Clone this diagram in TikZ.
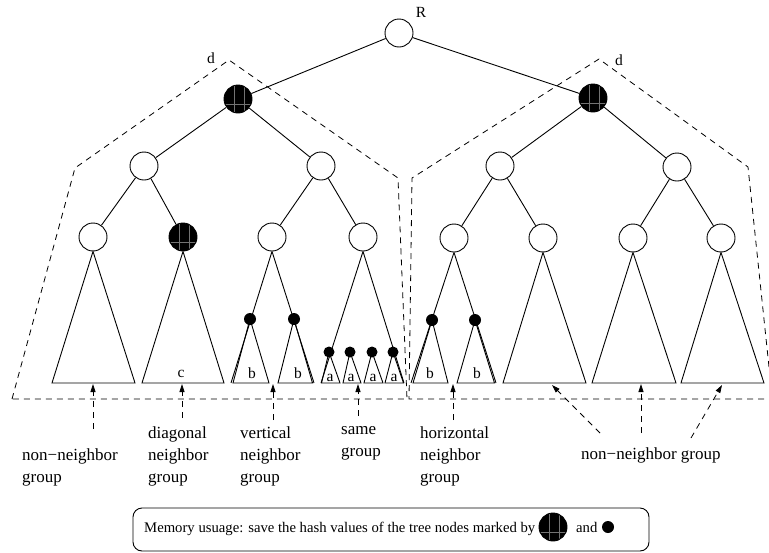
\documentclass[tikz,border=0pt]{standalone}
\usepackage{fontspec}
\setmainfont{Liberation Serif}
\usetikzlibrary{arrows.meta}
\begin{document}
\begin{tikzpicture}[x=1pt,y=-1pt,
  edge/.style={line width=0.9pt},
  tnode/.style={circle,draw,line width=0.9pt,fill=white,minimum size=28pt,inner sep=0pt},
  hashnode/.style={tnode,fill=black,path picture={
      \draw[black!55,line width=0.45pt]
        ([xshift=-3.3pt]path picture bounding box.north) -- ([xshift=-3.3pt]path picture bounding box.south)
        ([xshift=6pt]path picture bounding box.north) -- ([xshift=6pt]path picture bounding box.south)
        ([yshift=-5.5pt]path picture bounding box.west) -- ([yshift=-5.5pt]path picture bounding box.east);}},
  dot/.style={circle,fill=black,minimum size=12pt,inner sep=0pt},
  sdot/.style={circle,fill=black,minimum size=11pt,inner sep=0pt},
  dashline/.style={line width=0.8pt,dash pattern=on 6pt off 5pt},
  ptr/.style={dashline,-{Triangle[length=8pt,width=5pt]}},
  tlabel/.style={font=\fontsize{15.5}{18}\selectfont,inner sep=0pt,anchor=base},
  glabel/.style={font=\fontsize{17}{22}\selectfont,align=left,inner sep=0pt,anchor=base west},
  mtext/.style={font=\fontsize{14.7}{17}\selectfont,inner sep=0pt,anchor=base west}]
\useasboundingbox (0,0) rectangle (769,552);
\clip (0,0) rectangle (769,552);

% dashed outlines of the two subtrees of depth d
\draw[dashline] (12,399) -- (75,168) -- (229,60) -- (398,178) -- (407,399) -- cycle;
\draw[dashline] (769,367) -- (748,167) -- (599,59) -- (412,178) -- (409,399) -- (769,399);
\node[tlabel] (dleft) at (211,63) {d};
\node[tlabel] (dright) at (619,65) {d};

% upper levels of the tree
\node[tnode] (R) at (399,33) {};
\node[tlabel] (Rlab) at (421,17) {R};
\node[hashnode] (A) at (238,99) {};
\node[hashnode] (B) at (593,98) {};
\node[tnode] (A1) at (144,166) {};
\node[tnode] (A2) at (321,166) {};
\node[tnode] (B1) at (500,166) {};
\node[tnode] (B2) at (677,167) {};
\node[tnode] (A11) at (93,237) {};
\node[hashnode] (A12) at (183,237) {};
\node[tnode] (A21) at (272,237) {};
\node[tnode] (A22) at (363,237) {};
\node[tnode] (B11) at (454,238) {};
\node[tnode] (B12) at (543,238) {};
\node[tnode] (B21) at (633,238) {};
\node[tnode] (B22) at (721,238) {};

\draw[edge] (R) -- (A);  \draw[edge] (R) -- (B);
\draw[edge] (A) -- (A1); \draw[edge] (A) -- (A2);
\draw[edge] (B) -- (B1); \draw[edge] (B) -- (B2);
\draw[edge] (A1) -- (A11); \draw[edge] (A1) -- (A12);
\draw[edge] (A2) -- (A21); \draw[edge] (A2) -- (A22);
\draw[edge] (B1) -- (B11); \draw[edge] (B1) -- (B12);
\draw[edge] (B2) -- (B21); \draw[edge] (B2) -- (B22);

% whole subtrees
\draw[edge] (A11.south) -- (52,383) -- (135,383) -- cycle;
\draw[edge] (A12.south) -- (142,383) -- (224,383) -- cycle;
\node[tlabel] (clab) at (181,377) {c};
\draw[edge] (B12.south) -- (503,383) -- (586,383) -- cycle;
\draw[edge] (B21.south) -- (592,383) -- (676,383) -- cycle;
\draw[edge] (B22.south) -- (681,383) -- (764,383) -- cycle;

% vertical neighbor group
\node[dot] (v1) at (250,319) {};
\node[dot] (v2) at (294,319) {};
\draw[edge] (A21.south) -- (231,383);
\draw[edge] (A21.south) -- (314,383);
\draw[edge] (v1.center) -- (233,383) -- (269,383) -- cycle;
\draw[edge] (v2.center) -- (278,383) -- (312.5,383) -- cycle;
\node[tlabel] (vb1) at (252,378) {b};
\node[tlabel] (vb2) at (298,378) {b};

% same group
\node[sdot] (s1) at (329,352) {};
\node[sdot] (s2) at (350,352) {};
\node[sdot] (s3) at (372,352) {};
\node[sdot] (s4) at (393,352) {};
\draw[edge] (A22.south) -- (321,383);
\draw[edge] (A22.south) -- (404,383);
\draw[edge] (s1.center) -- (321.5,383) -- (340,383) -- cycle;
\draw[edge] (s2.center) -- (343,383) -- (361,383) -- cycle;
\draw[edge] (s3.center) -- (364,383) -- (383,383) -- cycle;
\draw[edge] (s4.center) -- (385,383) -- (403.5,383) -- cycle;
\node[tlabel] (sa1) at (330,381) {a};
\node[tlabel] (sa2) at (351,381) {a};
\node[tlabel] (sa3) at (373,381) {a};
\node[tlabel] (sa4) at (394,381) {a};

% horizontal neighbor group
\node[dot] (h1) at (432,320) {};
\node[dot] (h2) at (475,320) {};
\draw[edge] (B11.south) -- (411,383);
\draw[edge] (B11.south) -- (496,383);
\draw[edge] (h1.center) -- (413,383) -- (448,383) -- cycle;
\draw[edge] (h2.center) -- (457,383) -- (494.5,383) -- cycle;
\node[tlabel] (hb1) at (430,378) {b};
\node[tlabel] (hb2) at (477,378) {b};

% arrow ends
\coordinate (t1) at (93,384);   \coordinate (f1) at (93,429);
\coordinate (t2) at (182,384);  \coordinate (f2) at (182,418);
\coordinate (t3) at (273,384);  \coordinate (f3) at (273,420);
\coordinate (t4) at (358,384);  \coordinate (f4) at (358,416);
\coordinate (t5) at (453,384);  \coordinate (f5) at (453,420);
\coordinate (t6) at (552,385);  \coordinate (f6) at (600,433);
\coordinate (t7) at (641,384);  \coordinate (f7) at (641,433);
\coordinate (t8) at (722,385);  \coordinate (f8) at (691,438);
\foreach \i in {1,...,8} {\draw[ptr] (f\i) -- (t\i);}

% group names (anchored at the baseline of the last line)
\node[glabel] (g1) at (22,482) {non−neighbor\\group};
\node[glabel] (g2) at (148,482) {diagonal\\neighbor\\group};
\node[glabel] (g3) at (240,482) {vertical\\neighbor\\group};
\node[glabel] (g4) at (341,456) {same\\group};
\node[glabel] (g5) at (420,482) {horizontal\\neighbor\\group};
\node[glabel] (g6) at (581,459) {non−neighbor group};

% memory note
\node[draw,line width=0.9pt,rounded corners=9pt,minimum width=516pt,minimum height=43pt] (memo) at (391,529.5) {};
\node[mtext] (mtxt) at (144,532) {Memory usuage: save the hash values of the tree nodes marked by};
\node[hashnode] (mbig) at (553,527) {};
\node[mtext] (mand) at (576,532) {and};
\node[dot] (msmall) at (608,527) {};
\end{tikzpicture}
\end{document}
